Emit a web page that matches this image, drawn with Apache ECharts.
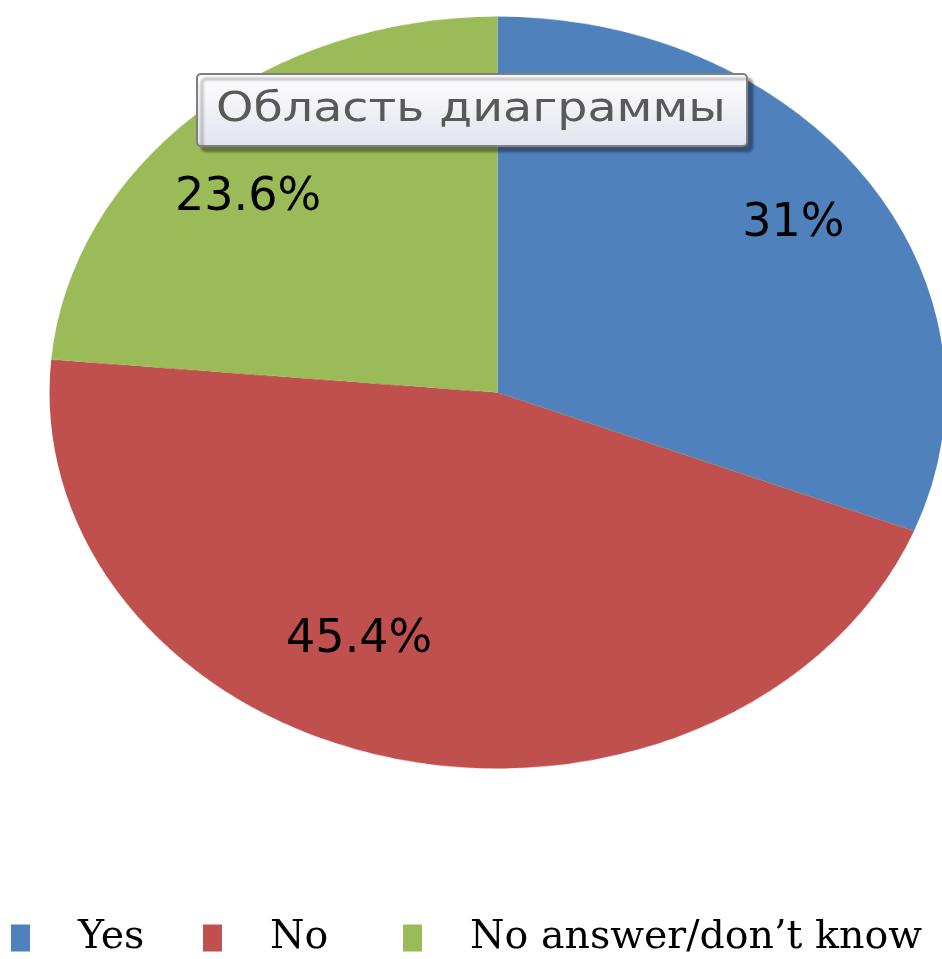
<!DOCTYPE html>
<html><head><meta charset="utf-8">
<script src="https://cdn.jsdelivr.net/npm/echarts@6/dist/echarts.min.js"></script>
<style>
html,body{margin:0;padding:0;background:#fff;width:942px;height:959px;overflow:hidden;position:relative}
#pie{position:absolute;left:0;top:-60px;width:942px;height:1000px;transform-origin:497.5px 452.5px;transform:scaleY(0.8393)}
#over{position:absolute;left:0;top:0;width:942px;height:959px}
</style></head><body>
<div id="pie"></div><div id="over"></div>
<script>
// ---- data ----
const categories = ['Yes', 'No', 'No answer/don’t know'];
const values = [31, 45.4, 23.6];
const colors = ['#4F81BD', '#C0504D', '#9BBB59'];
const boxTitle = 'Область диаграммы';

// ---- layout constants ----
const CX = 497.5, CY = 392.5, RX = 448, RY = 376, S = RY / RX;

const pieData = categories.map((c, i) => ({ name: c, value: values[i], itemStyle: { color: colors[i] } }));

// Chart A: the slices (stretched into an ellipse by CSS)
const chartA = echarts.init(document.getElementById('pie'), null, { renderer: 'canvas' });
chartA.setOption({
  animation: false,
  series: [{
    type: 'pie',
    center: [CX, CY + 60],
    radius: RX,
    startAngle: 90,
    clockwise: true,
    silent: true,
    label: { show: false },
    labelLine: { show: false },
    itemStyle: { borderWidth: 0 },
    emphasis: { disabled: true },
    data: pieData
  }]
});

// Chart B: labels, legend, caption box
const nudge = [[4, -2], [-57, -41], [-11, 24]];
const chartB = echarts.init(document.getElementById('over'), null, { renderer: 'canvas' });
const legendLefts = [11, 203, 403];
chartB.setOption({
  animation: false,
  legend: categories.map((c, i) => ({
    data: [{ name: c, itemStyle: { color: colors[i] } }],
    left: legendLefts[i],
    top: 918,
    padding: 0,
    itemWidth: 19,
    itemHeight: 27,
    icon: 'rect',
    selectedMode: false,
    textStyle: { fontFamily: 'DejaVu Serif', fontSize: 39.5, color: '#000', lineHeight: 27, padding: [0, 0, 0, 43] }
  })),
  graphic: [{
    type: 'group',
    silent: true,
    z: 100,
    children: [{
      type: 'rect',
      shape: { x: 197, y: 74, width: 550, height: 72, r: 4 },
      style: {
        fill: new echarts.graphic.LinearGradient(0, 0, 0, 1, [
          { offset: 0, color: '#ffffff' }, { offset: 1, color: '#e2e3ed' }
        ]),
        stroke: '#7f7f7f', lineWidth: 2,
        shadowBlur: 3, shadowOffsetX: 5, shadowOffsetY: 5, shadowColor: 'rgba(0,0,0,0.35)'
      }
    }, {
      type: 'text',
      x: 216, y: 110,
      scaleX: 1.16, originX: 0, originY: 0,
      style: {
        text: boxTitle,
        x: 0, y: 0,
        font: '41px "DejaVu Sans"',
        fill: '#595959',
        align: 'left',
        verticalAlign: 'middle'
      }
    }]
  }],
  series: [{
    type: 'pie',
    center: [CX, CY],
    radius: [252, RX],
    startAngle: 90,
    clockwise: true,
    silent: true,
    itemStyle: { color: 'rgba(0,0,0,0)', borderWidth: 0 },
    emphasis: { disabled: true },
    label: {
      show: true,
      position: 'inside',
      formatter: p => p.value + '%',
      fontFamily: 'DejaVu Sans',
      fontSize: 46,
      color: '#000'
    },
    labelLine: { show: false },
    labelLayout: function (p) {
      const r = p.labelRect;
      const x = r.x + r.width / 2, y = r.y + r.height / 2;
      const n = nudge[p.dataIndex];
      return { x: x + n[0], y: CY + (y - CY) * S + n[1] };
    },
    data: categories.map((c, i) => ({ name: c, value: values[i] }))
  }]
});
</script>
</body></html>
